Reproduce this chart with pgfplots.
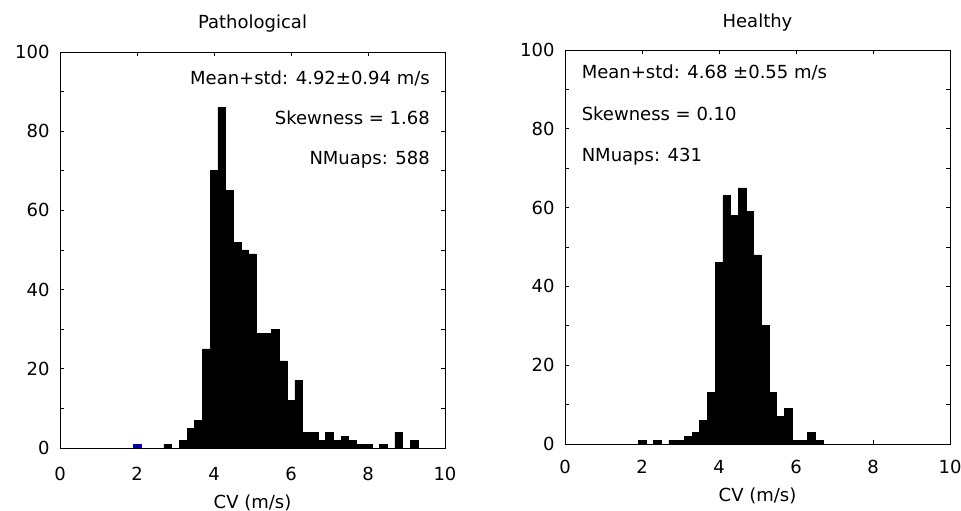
\documentclass[border=0pt]{standalone}
\usepackage{pgfplots}
\pgfplotsset{compat=1.18}
\usepackage{fontspec}
\setmainfont{DejaVu Sans}
\newcommand{\fs}{\fontsize{18bp}{21bp}\selectfont}
\definecolor{mblue}{rgb}{0,0,0.75}
\pgfplotsset{histo/.style={
  scale only axis, width=385bp,
  xmin=0, xmax=10, ymin=0, ymax=100,
  xtick={0,2,...,10}, ytick={0,20,...,100}, minor ytick={10,30,...,90},
  tick align=inside, tick pos=both,
  major tick length=4bp, minor tick length=4bp,
  axis on top,
  axis line style={line width=0.8bp, black},
  every tick/.style={black, line width=0.8bp},
  every minor tick/.style={black, line width=0.8bp},
  /pgf/number format/assume math mode=true,
  tick label style={font=\fs},
  yticklabel style={anchor=east, xshift=-7bp},
  every axis title/.style={at={(axis description cs:0.5,1)}, anchor=base, font=\fs},
  every axis x label/.style={at={(axis description cs:0.5,0)}, anchor=base, font=\fs},
  xlabel={CV (m/s)},
}}
\begin{document}
\begin{tikzpicture}
\path[use as bounding box] (0,0) rectangle (961bp,511bp);
% Left: Pathological
\begin{axis}[histo, height=396bp, at={(60bp,63bp)}, anchor=south west,
  title={Pathological}, title style={yshift=23bp},
  xlabel style={yshift=-60bp},
  xticklabel style={anchor=base, yshift=-32bp}]
\addplot[ybar, bar width=0.2, bar shift=0pt, fill=mblue, draw=mblue, line width=0.2bp]
  coordinates {(2.0,1)};
\addplot[ybar, bar width=0.2, bar shift=0pt, fill=black, draw=black, line width=0.6bp]
  coordinates {
  (2.8,1) (3.2,2) (3.4,5) (3.6,7) (3.8,25) (4.0,70) (4.2,86) (4.4,65)
  (4.6,52) (4.8,50) (5.0,49) (5.2,29) (5.4,29) (5.6,30) (5.8,22) (6.0,12)
  (6.2,17) (6.4,4) (6.6,4) (6.8,2) (7.0,4) (7.2,2) (7.4,3) (7.6,2)
  (7.8,1) (8.0,1) (8.4,1) (8.8,4) (9.2,2)
  };
\node[anchor=base east, font=\fs, inner sep=0pt] at (axis cs:9.61,91.7) {Mean+std: 4.92±0.94 m/s};
\node[anchor=base east, font=\fs, inner sep=0pt] at (axis cs:9.61,81.7) {Skewness = 1.68};
\node[anchor=base east, font=\fs, inner sep=0pt] at (axis cs:9.61,71.5) {NMuaps: 588};
\end{axis}
% Right: Healthy
\begin{axis}[histo, height=394bp, at={(565bp,67bp)}, anchor=south west,
  title={Healthy}, title style={yshift=22bp},
  xlabel style={yshift=-57bp},
  xticklabel style={anchor=base, yshift=-29bp}]
\addplot[ybar, bar width=0.2, bar shift=0pt, fill=black, draw=black, line width=0.6bp]
  coordinates {
  (2.0,1) (2.4,1) (2.8,1) (3.0,1) (3.2,2) (3.4,3) (3.6,6) (3.8,13)
  (4.0,46) (4.2,63) (4.4,58) (4.6,65) (4.8,59) (5.0,48) (5.2,30) (5.4,13)
  (5.6,7) (5.8,9) (6.0,1) (6.2,1) (6.4,3) (6.6,1)
  };
\node[anchor=base west, font=\fs, inner sep=0pt] at (axis cs:0.43,92.8) {Mean+std: 4.68 ±0.55 m/s};
\node[anchor=base west, font=\fs, inner sep=0pt] at (axis cs:0.43,82.0) {Skewness = 0.10};
\node[anchor=base west, font=\fs, inner sep=0pt] at (axis cs:0.43,71.7) {NMuaps: 431};
\end{axis}
\end{tikzpicture}
\end{document}
